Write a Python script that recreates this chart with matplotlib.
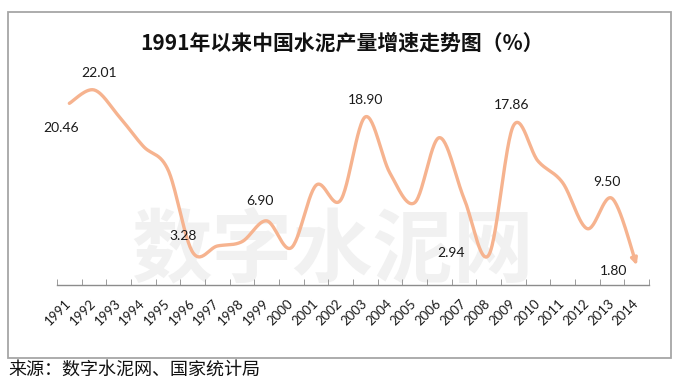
import numpy as np
import matplotlib
matplotlib.use('Agg')
import matplotlib.pyplot as plt
import matplotlib.patches as mpatches

plt.rcParams['font.family'] = ['Lato', 'Noto Sans CJK SC', 'DejaVu Sans']

# data
years = [str(y) for y in range(1991, 2015)]
growth = [20.46, 22.01, 19.0, 15.5, 12.8, 3.28, 4.0, 4.5, 6.90, 3.8, 11.0, 9.3,
          18.90, 12.4, 9.0, 16.5, 9.5, 2.94, 17.86, 13.8, 11.3, 6.0, 9.50, 1.80]
# label offsets in points
labeled = {'1991': (-6, -18), '1992': (4, 12), '1996': (-7, 12), '1999': (-5, 14),
           '2003': (0, 12), '2008': (-27, 1.5), '2009': (-1.5, 15),
           '2013': (-4, 12), '2014': (-17, -4.5)}

title = '1991年以来中国水泥产量增速走势图（%）'
source = '来源：数字水泥网、国家统计局'
line_color = '#F6B38F'


def smooth(xs, ys, n=30):
    # Excel-like smoothed line (Catmull-Rom via cubic bezier)
    xs = np.asarray(xs, float)
    ys = np.asarray(ys, float)
    px = np.concatenate([[xs[0]], xs, [xs[-1]]])
    py = np.concatenate([[ys[0]], ys, [ys[-1]]])
    outx, outy = [], []
    t = np.linspace(0, 1, n)
    for i in range(1, len(px) - 2):
        p0 = np.array([px[i], py[i]])
        p3 = np.array([px[i + 1], py[i + 1]])
        p1 = p0 + (np.array([px[i + 1], py[i + 1]]) - np.array([px[i - 1], py[i - 1]])) / 6
        p2 = p3 - (np.array([px[i + 2], py[i + 2]]) - np.array([px[i], py[i]])) / 6
        b = ((1 - t) ** 3)[:, None] * p0 + (3 * (1 - t) ** 2 * t)[:, None] * p1 \
            + (3 * (1 - t) * t ** 2)[:, None] * p2 + (t ** 3)[:, None] * p3
        if i > 1:
            b = b[1:]
        outx.extend(b[:, 0])
        outy.extend(b[:, 1])
    return np.array(outx), np.array(outy)


fig = plt.figure(figsize=(6.8, 3.85), dpi=100)

# outer chart frame
frame = mpatches.Rectangle((8 / 680, 1 - 358 / 385), 663 / 680, 346 / 385,
                           transform=fig.transFigure, facecolor='white',
                           edgecolor='#A6A6A6', linewidth=1.3, zorder=-5)
fig.patches.append(frame)

ax = fig.add_axes([57 / 680, 1 - 285 / 385, 592 / 680, 221 / 385])
ax.set_facecolor('none')
ax.set_zorder(2)

# watermark
ax.text(0.465, 0.15, '数字水泥网', transform=ax.transAxes, fontsize=58,
        fontweight='heavy', color='#F1F1F1', ha='center', va='center',
        family=['Noto Sans CJK SC'], zorder=0)

x = np.arange(len(years))
sx, sy = smooth(x, growth)
ax.plot(sx[:-3], sy[:-3], color=line_color, lw=2.4, solid_capstyle='round', zorder=3)
ax.annotate('', xy=(sx[-1], sy[-1]), xytext=(sx[-4], sy[-4]),
            arrowprops=dict(arrowstyle='-|>', color=line_color, lw=2.4,
                            mutation_scale=9, shrinkA=0, shrinkB=0), zorder=3)

for yr, (dx, dy) in labeled.items():
    i = years.index(yr)
    ax.annotate(f'{growth[i]:.2f}', (x[i], growth[i]), xytext=(dx, dy),
                textcoords='offset points', ha='center', va='center',
                fontsize=10, color='#1a1a1a', zorder=4)

ax.set_xlim(-0.5, len(years) - 0.5)
ax.set_ylim(-0.5, 25)

ax.set_xticks(x)
ax.set_xticklabels(years, rotation=45, ha='right', va='center',
                   rotation_mode='anchor', fontsize=9.5, color='#1a1a1a')
ax.tick_params(axis='x', which='major', length=0, pad=12)
ax.set_xticks(np.arange(-0.5, len(years)), minor=True)
ax.tick_params(axis='x', which='minor', length=4, direction='in', color='#8c8c8c')
ax.set_yticks([])
for s in ['top', 'right', 'left']:
    ax.spines[s].set_visible(False)
ax.spines['bottom'].set_color('#8c8c8c')
ax.spines['bottom'].set_linewidth(1.0)

fig.text(342 / 680, 1 - 43 / 385, title, ha='center', va='center', fontsize=15,
         fontweight='bold', family=['Noto Sans CJK SC', 'DejaVu Sans'], color='#111111')
fig.text(8 / 680, 1 - 370 / 385, source, ha='left', va='center', fontsize=13,
         family=['Noto Sans CJK SC', 'DejaVu Sans'], color='#111111')

fig.savefig('out.png', dpi=100)
